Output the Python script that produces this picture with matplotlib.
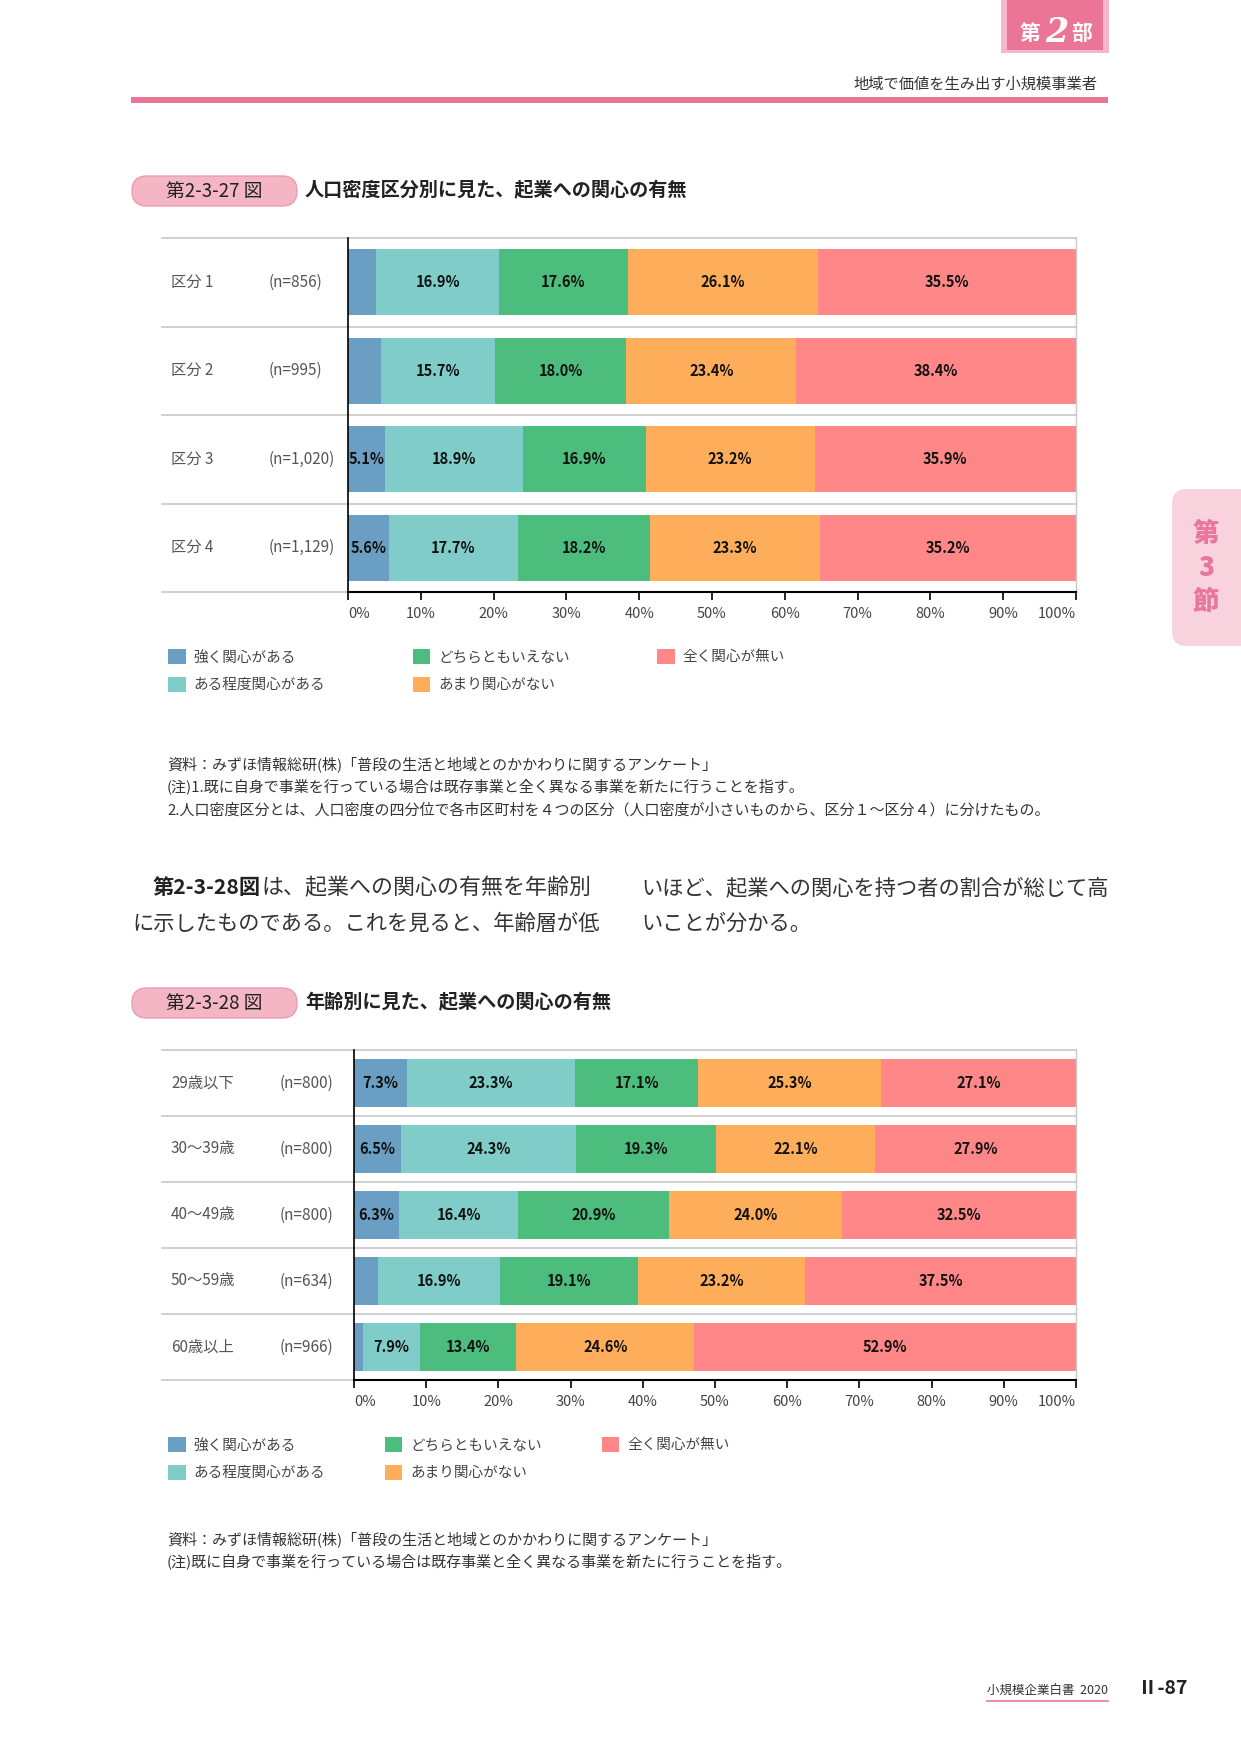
import numpy as np
import matplotlib
matplotlib.use("Agg")
import matplotlib.pyplot as plt
from matplotlib.patches import Rectangle, FancyBboxPatch
from matplotlib.lines import Line2D

plt.rcParams["font.family"] = ["Noto Sans CJK JP", "DejaVu Sans"]

W, H = 1241, 1754

# 回答カテゴリと色
CATEGORIES = ["強く関心がある", "ある程度関心がある", "どちらともいえない", "あまり関心がない", "全く関心が無い"]
COLORS = ["#6a9fc3", "#7fccc8", "#4cbd7c", "#feae5b", "#ff8787"]

# 第2-3-27図 人口密度区分別
DENSITY_LABELS = ["区分 1", "区分 2", "区分 3", "区分 4"]
DENSITY_N = ["(n=856)", "(n=995)", "(n=1,020)", "(n=1,129)"]
DENSITY_VALUES = [
    [3.9, 16.9, 17.6, 26.1, 35.5],
    [4.5, 15.7, 18.0, 23.4, 38.4],
    [5.1, 18.9, 16.9, 23.2, 35.9],
    [5.6, 17.7, 18.2, 23.3, 35.2],
]

# 第2-3-28図 年齢別
AGE_LABELS = ["29歳以下", "30～39歳", "40～49歳", "50～59歳", "60歳以上"]
AGE_N = ["(n=800)", "(n=800)", "(n=800)", "(n=634)", "(n=966)"]
AGE_VALUES = [
    [7.3, 23.3, 17.1, 25.3, 27.1],
    [6.5, 24.3, 19.3, 22.1, 27.9],
    [6.3, 16.4, 20.9, 24.0, 32.5],
    [3.3, 16.9, 19.1, 23.2, 37.5],
    [1.2, 7.9, 13.4, 24.6, 52.9],
]

TICKS = list(range(0, 101, 10))

PINK = "#ea7596"
GRID = "#c8c8c8"


def fx(x):
    return x / W


def fy(y):
    return 1 - y / H


def fig_box(x0, y0, x1, y1):
    return [x0 / W, 1 - y1 / H, (x1 - x0) / W, (y1 - y0) / H]


def draw_chart(fig, box, labels, ns, values, bar_h, n_x, legend_xy, colspacing):
    x0, y0, x1, y1 = box
    ax = fig.add_axes(fig_box(x0, y0, x1, y1))
    vals = np.array(values, dtype=float)
    n = len(labels)
    ypos = np.arange(n)
    left = np.zeros(n)
    for j, cat in enumerate(CATEGORIES):
        ax.barh(ypos, vals[:, j], left=left, height=bar_h, color=COLORS[j],
                label=cat, linewidth=0, zorder=2)
        for i in range(n):
            v = vals[i, j]
            if v >= 5:
                ax.text(left[i] + v / 2, ypos[i], f"{v:.1f}%", ha="center", va="center",
                        fontsize=10.5, fontweight="bold", color="#111", zorder=3)
        left += vals[:, j]

    ax.set_xlim(0, 100)
    ax.set_ylim(n - 0.5, -0.5)

    # 行の区切り線（ラベル領域まで延長）
    ext = (162 - x0) / (x1 - x0)
    for k in range(n + 1):
        ax.axhline(k - 0.5, xmin=ext, xmax=1, color=GRID, lw=1.2, clip_on=False, zorder=0)

    # 行ラベル
    lab_x = (171 - x0) / (x1 - x0)
    num_x = (n_x - x0) / (x1 - x0)
    for i in range(n):
        ax.text(lab_x, ypos[i], labels[i], transform=ax.get_yaxis_transform(),
                ha="left", va="center", fontsize=11, color="#555")
        ax.text(num_x, ypos[i], ns[i], transform=ax.get_yaxis_transform(),
                ha="left", va="center", fontsize=11, color="#555")

    ax.set_yticks([])
    ax.set_xticks(TICKS)
    ax.set_xticklabels([f"{t}%" for t in TICKS])
    ax.tick_params(axis="x", direction="out", length=6, width=1.2, color="black",
                   labelsize=10.5, labelcolor="#444", pad=5)
    tl = ax.get_xticklabels()
    tl[0].set_ha("left")
    tl[-1].set_ha("right")

    ax.spines["top"].set_visible(False)
    ax.spines["right"].set_color(GRID)
    ax.spines["right"].set_linewidth(1)
    ax.spines["left"].set_color("black")
    ax.spines["left"].set_linewidth(1.2)
    ax.spines["bottom"].set_color("black")
    ax.spines["bottom"].set_linewidth(1.5)

    lx, ly = legend_xy
    ax.legend(loc="upper left", bbox_to_anchor=(fx(lx), fy(ly)), bbox_transform=fig.transFigure,
              ncol=3, frameon=False, fontsize=10.5, labelcolor="#444",
              handlelength=1.2, handleheight=1.2, handletextpad=0.55,
              labelspacing=0.85, columnspacing=colspacing, borderpad=0, borderaxespad=0)
    return ax


def draw_title(fig, y, num, title):
    pill = FancyBboxPatch((fx(132), fy(y + 15)), fx(297) - fx(132), fy(y - 15) - fy(y + 15),
                          boxstyle="round,pad=0,rounding_size=0.012",
                          transform=fig.transFigure, facecolor="#f4b5c4", edgecolor="#ec9db1",
                          lw=1, mutation_aspect=W / H)
    fig.add_artist(pill)
    fig.text(fx(214), fy(y), num, ha="center", va="center", fontsize=13.5, color="#222")
    fig.text(fx(305), fy(y), title, ha="left", va="center", fontsize=13.8,
             fontweight="bold", color="#222")


fig = plt.figure(figsize=(W / 100, H / 100), dpi=100)

# ヘッダー
fig.add_artist(Rectangle((fx(1001), fy(53)), fx(1109) - fx(1001), fy(0) - fy(53),
                         transform=fig.transFigure, facecolor="#f5b8c8", lw=0))
fig.add_artist(Rectangle((fx(1007), fy(50)), fx(1103) - fx(1007), fy(0) - fy(50),
                         transform=fig.transFigure, facecolor=PINK, lw=0))
fig.text(fx(1030), fy(34), "第", ha="center", va="center", fontsize=15, fontweight="bold", color="white")
fig.text(fx(1057), fy(32), "2", ha="center", va="center", fontsize=24, style="italic",
         fontweight="bold", family="DejaVu Serif", color="white")
fig.text(fx(1082), fy(34), "部", ha="center", va="center", fontsize=15, fontweight="bold", color="white")
fig.text(fx(1097), fy(84), "地域で価値を生み出す小規模事業者", ha="right", va="center",
         fontsize=11, color="#333")
fig.add_artist(Rectangle((fx(131), fy(103)), fx(1108) - fx(131), fy(97) - fy(103),
                         transform=fig.transFigure, facecolor=PINK, lw=0))

# サイドタブ
tab = FancyBboxPatch((fx(1172), fy(646)), fx(1260) - fx(1172), fy(489) - fy(646),
                     boxstyle="round,pad=0,rounding_size=0.012", transform=fig.transFigure,
                     facecolor="#f8d2dc", lw=0, mutation_aspect=W / H)
fig.add_artist(tab)
for ch, yy in zip(["第", "3", "節"], [534, 568, 602]):
    fig.text(fx(1206), fy(yy), ch, ha="center", va="center", fontsize=19,
             fontweight="heavy", color="#e8779b")

# 第2-3-27図
draw_title(fig, 191, "第2-3-27 図", "人口密度区分別に見た、起業への関心の有無")
draw_chart(fig, (348, 238, 1076, 592), DENSITY_LABELS, DENSITY_N, DENSITY_VALUES,
           0.75, 269, (168, 649), 6.0)
notes1 = [
    "資料：みずほ情報総研(株)「普段の生活と地域とのかかわりに関するアンケート」",
    "(注)1.既に自身で事業を行っている場合は既存事業と全く異なる事業を新たに行うことを指す。",
    "2.人口密度区分とは、人口密度の四分位で各市区町村を４つの区分（人口密度が小さいものから、区分１～区分４）に分けたもの。",
]
for line, yy in zip(notes1, [764, 786, 810]):
    fig.text(fx(167), fy(yy), line, ha="left", va="center", fontsize=10.8, color="#333")

# 本文
t1 = fig.text(fx(153), fy(888), "第2-3-28図", ha="left", va="center", fontsize=15.3,
              fontweight="bold", color="#222")
renderer = fig.canvas.get_renderer()
bb = t1.get_window_extent(renderer)
fig.text(bb.x1 / fig.bbox.width, fy(888), "は、起業への関心の有無を年齢別", ha="left",
         va="center", fontsize=15.8, color="#333")
fig.text(fx(132), fy(924), "に示したものである。これを見ると、年齢層が低", ha="left",
         va="center", fontsize=15.3, color="#333")
fig.text(fx(641), fy(888), "いほど、起業への関心を持つ者の割合が総じて高", ha="left",
         va="center", fontsize=15.3, color="#333")
fig.text(fx(641), fy(924), "いことが分かる。", ha="left", va="center", fontsize=15.3, color="#333")

# 第2-3-28図
draw_title(fig, 1003, "第2-3-28 図", "年齢別に見た、起業への関心の有無")
draw_chart(fig, (354, 1050, 1076, 1380), AGE_LABELS, AGE_N, AGE_VALUES,
           0.73, 280, (168, 1437), 4.1)
notes2 = [
    "資料：みずほ情報総研(株)「普段の生活と地域とのかかわりに関するアンケート」",
    "(注)既に自身で事業を行っている場合は既存事業と全く異なる事業を新たに行うことを指す。",
]
for line, yy in zip(notes2, [1539, 1561]):
    fig.text(fx(167), fy(yy), line, ha="left", va="center", fontsize=10.8, color="#333")

# フッター
fig.text(fx(1108), fy(1690), "小規模企業白書  2020", ha="right", va="center", fontsize=9, color="#333")
fig.add_artist(Line2D([fx(987), fx(1108)], [fy(1701), fy(1701)], transform=fig.transFigure,
                      color=PINK, lw=1.2))
fig.text(fx(1138), fy(1689), "Ⅱ-87", ha="left", va="center", fontsize=14,
         fontweight="bold", color="#222")

fig.savefig("out.png", dpi=100)
